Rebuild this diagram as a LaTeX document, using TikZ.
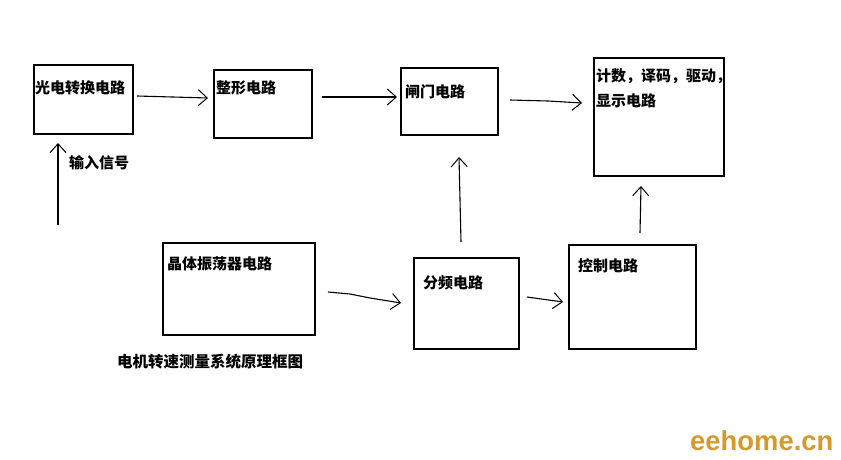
\documentclass[tikz,border=0pt]{standalone}
\usepackage{fontspec}
\setmainfont{Noto Sans CJK SC}
\newfontfamily\latinfont{Liberation Sans}
\usetikzlibrary{arrows.meta}
\definecolor{brand}{HTML}{D39B2F}
\tikzset{
  blk/.style={draw=black, line width=1.2pt},
  lbl/.style={anchor=west, inner sep=0pt, font=\fontsize{15}{18}\selectfont\bfseries},
  hand/.style={line width=1.1pt, -{Straight Barb[length=9pt,width=16pt,line width=1pt]}},
}
\begin{document}
\begin{tikzpicture}[x=1pt,y=-1pt]
\useasboundingbox[fill=white] (0,0) rectangle (841,460);
% boxes
\draw[blk] (34,65) rectangle (133,134);
\draw[blk] (214,70) rectangle (312,138);
\draw[blk] (401,68) rectangle (498,135);
\draw[blk] (594,58) rectangle (724,176);
\draw[blk] (163,243) rectangle (315,335);
\draw[blk] (414,258) rectangle (519,349);
\draw[blk] (569,245) rectangle (696,349);
% labels
\node[lbl] (t1) at (35,88) {光电转换电路};
\node[lbl] (t2) at (216,88) {整形电路};
\node[lbl] (t3) at (405,92) {闸门电路};
\node[lbl] (t4) at (596,76) {计数，译码，驱动，};
\node[lbl] (t4b) at (596,101) {显示电路};
\node[lbl] (t5) at (167,264) {晶体振荡器电路};
\node[lbl] (t6) at (423,283) {分频电路};
\node[lbl] (t7) at (578,266) {控制电路};
\node[lbl] (t8) at (69,163) {输入信号};
\node[anchor=west, inner sep=0pt, font=\fontsize{15.5}{18}\selectfont\bfseries] (title) at (117,362) {电机转速测量系统原理框图};
\node[anchor=base west, inner sep=0pt, text=brand, font=\latinfont\fontsize{27.4}{30}\selectfont\bfseries] (brand) at (690,450) {eehome.cn};
% connector ends
\coordinate (a1s) at (137,96);  \coordinate (a1e) at (208,98);
\coordinate (a2s) at (322,97);  \coordinate (a2e) at (397,97);
\coordinate (a3s) at (510,100); \coordinate (a3e) at (582,103);
\coordinate (a4s) at (461,242); \coordinate (a4e) at (459,157);
\coordinate (a5s) at (640,233); \coordinate (a5e) at (641,186);
\coordinate (a6s) at (328,292); \coordinate (a6e) at (401,303);
\coordinate (a7s) at (527,297); \coordinate (a7e) at (563,302);
\coordinate (a8s) at (58,225);  \coordinate (a8e) at (58,143);
% connectors
\draw[hand] (a1s) -- (a1e);
\draw[hand] (a2s) -- (a2e);
\draw[hand] (a3s) -- (548,101) -- (a3e);
\draw[hand] (a4s) -- (a4e);
\draw[hand] (a5s) -- (a5e);
\draw[hand] (a6s) -- (350,294) -- (370,298) -- (a6e);
\draw[hand] (a7s) -- (a7e);
\draw[hand] (a8s) -- (a8e);
\end{tikzpicture}
\end{document}
